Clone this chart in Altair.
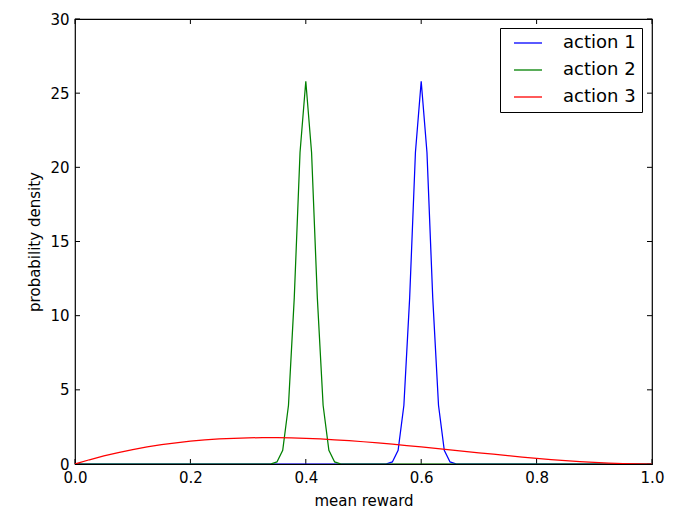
import altair as alt
import pandas as pd

series_names = ["action 1", "action 2", "action 3"]
series_colors = ["#0000ff", "#008000", "#ff0000"]

# action 1: narrow peak near 0.6
x_a1 = [0.0, 0.53, 0.54, 0.55, 0.56, 0.57, 0.58, 0.59, 0.60, 0.61, 0.62, 0.63, 0.64, 0.65, 0.66, 0.67, 1.0]
y_a1 = [0.0, 0.0, 0.01, 0.14, 0.92, 3.96, 11.2, 21.0, 25.8, 21.0, 11.2, 3.96, 0.92, 0.14, 0.01, 0.0, 0.0]

# action 2: narrow peak near 0.4
x_a2 = [0.0, 0.33, 0.34, 0.35, 0.36, 0.37, 0.38, 0.39, 0.40, 0.41, 0.42, 0.43, 0.44, 0.45, 0.46, 0.47, 1.0]
y_a2 = [0.0, 0.0, 0.01, 0.14, 0.92, 3.96, 11.2, 21.0, 25.8, 21.0, 11.2, 3.96, 0.92, 0.14, 0.01, 0.0, 0.0]

# action 3: broad curve
x_a3 = [0.0, 0.025, 0.05, 0.075, 0.1, 0.125, 0.15, 0.175, 0.2, 0.225, 0.25, 0.275, 0.3, 0.325,
        0.35, 0.375, 0.4, 0.425, 0.45, 0.475, 0.5, 0.525, 0.55, 0.575, 0.6, 0.625, 0.65, 0.675,
        0.7, 0.725, 0.75, 0.775, 0.8, 0.825, 0.85, 0.875, 0.9, 0.925, 0.95, 0.975, 1.0]
y_a3 = [0.0, 0.285, 0.542, 0.770, 0.972, 1.148, 1.301, 1.429, 1.536, 1.622, 1.688, 1.735, 1.764, 1.777,
        1.775, 1.758, 1.728, 1.686, 1.634, 1.571, 1.500, 1.421, 1.337, 1.246, 1.152, 1.055, 0.956, 0.856,
        0.756, 0.658, 0.563, 0.471, 0.384, 0.303, 0.230, 0.164, 0.108, 0.062, 0.029, 0.007, 0.0]

x_ticks = [0.0, 0.2, 0.4, 0.6, 0.8, 1.0]
y_ticks = [0, 5, 10, 15, 20, 25, 30]

rows = []
for name, xs, ys in zip(series_names, [x_a1, x_a2, x_a3], [y_a1, y_a2, y_a3]):
    rows += [{"series": name, "x": a, "y": b} for a, b in zip(xs, ys)]
df = pd.DataFrame(rows)

W, H = 577, 445
FONT = "DejaVu Sans"

xscale = alt.Scale(domain=[0, 1], nice=False, zero=False)
yscale = alt.Scale(domain=[0, 30], nice=False)

x_axis = alt.Axis(values=x_ticks, format=".1f", title="mean reward", ticks=False, domain=False,
                  grid=False, labelPadding=6, labelFlush=False, labelOverlap=False,
                  titleY=41, titleBaseline="alphabetic")
y_axis = alt.Axis(values=y_ticks, format="d", title="probability density", ticks=False, domain=False,
                  grid=False, labelPadding=6, labelFlush=False, labelOverlap=False,
                  titleX=-36, titleY=H / 2, titleBaseline="alphabetic", titleAlign="center")

lines = alt.Chart(df).mark_line(strokeWidth=1.25, clip=True).encode(
    x=alt.X("x:Q", scale=xscale, axis=x_axis),
    y=alt.Y("y:Q", scale=yscale, axis=y_axis),
    color=alt.Color("series:N", scale=alt.Scale(domain=series_names, range=series_colors),
                    title=None,
                    legend=alt.Legend(orient="none", legendX=425, legendY=9,
                                      symbolType="M-2,0L2,0", symbolSize=196,
                                      symbolStrokeWidth=1.3, labelFontSize=18, labelFont=FONT,
                                      labelColor="black", labelOffset=26, padding=6,
                                      symbolOffset=13, rowPadding=9, strokeColor="black",
                                      fillColor="white", cornerRadius=0)),
)

xt = pd.DataFrame({"x": x_ticks})
yt = pd.DataFrame({"y": y_ticks})

xtick_bottom = alt.Chart(xt).mark_rule(color="black", strokeWidth=1).encode(
    x=alt.X("x:Q", scale=xscale, axis=x_axis), y=alt.value(H), y2=alt.value(H - 5))
xtick_top = alt.Chart(xt).mark_rule(color="black", strokeWidth=1).encode(
    x=alt.X("x:Q", scale=xscale, axis=x_axis), y=alt.value(0), y2=alt.value(5))
ytick_left = alt.Chart(yt).mark_rule(color="black", strokeWidth=1).encode(
    y=alt.Y("y:Q", scale=yscale, axis=y_axis), x=alt.value(0), x2=alt.value(5))
ytick_right = alt.Chart(yt).mark_rule(color="black", strokeWidth=1).encode(
    y=alt.Y("y:Q", scale=yscale, axis=y_axis), x=alt.value(W), x2=alt.value(W - 5))

chart = alt.layer(xtick_bottom, xtick_top, ytick_left, ytick_right, lines).properties(
    width=W, height=H,
    padding={"left": 75, "top": 19, "right": 27, "bottom": 47},
    autosize=alt.AutoSizeParams(type="none"),
    background="white",
).configure_view(stroke="black", strokeWidth=1.2).configure_axis(
    labelFont=FONT, labelFontSize=15, labelColor="black",
    titleFont=FONT, titleFontSize=15, titleFontWeight="normal", titleColor="black",
)

chart.save("out.html", embed_options={"renderer": "svg", "actions": False})
